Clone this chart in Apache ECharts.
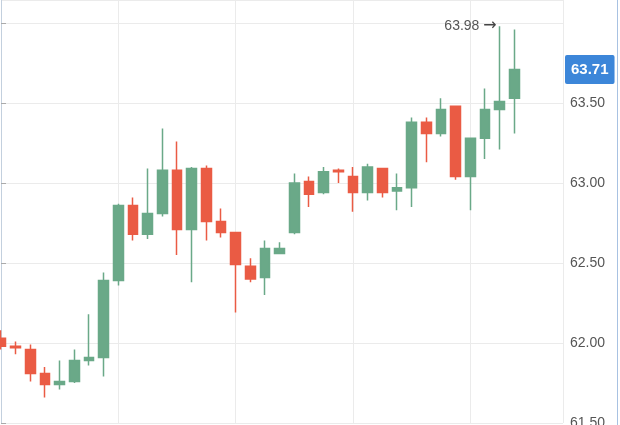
<!DOCTYPE html>
<html>
<head>
<meta charset="utf-8">
<script src="https://cdn.jsdelivr.net/npm/echarts@6/dist/echarts.min.js"></script>
<style>html,body{margin:0;padding:0;background:#fff}#c{width:620px;height:425px}</style>
</head>
<body>
<div id="c"></div>
<script>
var opens  = [62.03,61.98,61.96,61.81,61.74,61.76,61.89,61.91,62.39,62.86,62.68,62.81,63.08,62.71,63.09,62.76,62.69,62.48,62.41,62.56,62.69,63.01,62.94,63.08,63.04,62.94,63.09,62.95,62.97,63.38,63.31,63.48,63.04,63.28,63.46,63.53];
var closes = [61.98,61.97,61.81,61.74,61.76,61.89,61.91,62.39,62.86,62.68,62.81,63.08,62.71,63.09,62.76,62.69,62.49,62.40,62.59,62.59,63.00,62.93,63.07,63.07,62.94,63.10,62.94,62.97,63.38,63.31,63.46,63.04,63.28,63.46,63.51,63.71];
var lows   = [61.96,61.93,61.76,61.66,61.71,61.75,61.86,61.79,62.36,62.64,62.65,62.79,62.55,62.38,62.64,62.66,62.19,62.38,62.30,62.56,62.68,62.85,62.93,63.00,62.82,62.89,62.91,62.83,62.85,63.13,63.29,63.02,62.83,63.15,63.21,63.31];
var highs  = [62.08,62.01,61.99,61.85,61.89,61.96,62.18,62.44,62.87,62.91,63.09,63.34,63.26,63.10,63.11,62.84,62.69,62.53,62.64,62.63,63.06,63.04,63.10,63.09,63.10,63.12,63.09,63.06,63.41,63.41,63.53,63.48,63.28,63.59,63.98,63.96];
var yTicks = [61.50, 62.00, 62.50, 63.00, 63.50];

var upColor = '#6aa988', downColor = '#ea5b44';
var data = opens.map(function (o, i) { return [i, o, closes[i], lows[i], highs[i]]; });
var maxHigh = Math.max.apply(null, highs);
var maxIdx = highs.indexOf(maxHigh);
var lastClose = closes[closes.length - 1];

var chart = echarts.init(document.getElementById('c'), null, {renderer: 'canvas'});
chart.setOption({
  animation: false,
  backgroundColor: '#fff',
  grid: {left: 1, right: 57, top: 0, bottom: 2, outerBoundsMode: 'none', containLabel: false},
  xAxis: {
    type: 'value', min: 0, max: 562 / 14.667, interval: 8,
    axisLine: {show: false}, axisTick: {show: false}, axisLabel: {show: false},
    splitLine: {show: true, lineStyle: {color: '#ebebeb', width: 1}}
  },
  yAxis: {
    type: 'value', position: 'right', min: 61.5, max: 61.5 + 423 / 160, interval: 0.5,
    axisLine: {show: true, lineStyle: {color: '#c3d0de'}},
    axisTick: {show: true, length: 5, lineStyle: {color: '#aaaaaa'}},
    axisLabel: {
      color: '#555', fontSize: 14, fontFamily: 'Liberation Sans, Arial, sans-serif', margin: 7,
      showMinLabel: true, showMaxLabel: false,
      formatter: function (v) {
        for (var i = 0; i < yTicks.length; i++) {
          if (Math.abs(v - yTicks[i]) < 1e-6) return yTicks[i].toFixed(2);
        }
        return '';
      }
    },
    splitLine: {show: true, lineStyle: {color: '#ebebeb', width: 1}}
  },
  series: [{
    type: 'candlestick',
    data: data,
    encode: {x: 0, y: [1, 2, 3, 4]},
    barWidth: 10,
    itemStyle: {color: upColor, color0: downColor, borderColor: upColor, borderColor0: downColor, borderWidth: 1.5},
    markPoint: {
      symbol: 'circle', symbolSize: 0,
      data: [{coord: [maxIdx, maxHigh], value: maxHigh}],
      label: {
        show: true, position: 'left', distance: 3, color: '#555', fontSize: 14,
        fontFamily: 'Liberation Sans, Arial, sans-serif',
        formatter: function (p) { return p.value.toFixed(2) + ' {a|\u2192}'; },
        rich: {a: {fontSize: 16, color: '#444', fontFamily: 'DejaVu Sans, sans-serif'}}
      }
    },
    markLine: {
      symbol: 'none', silent: true,
      lineStyle: {color: 'rgba(0,0,0,0)', width: 0, type: 'solid'},
      data: [{yAxis: lastClose}],
      label: {
        show: true, position: 'end', distance: 2,
        formatter: lastClose.toFixed(2),
        color: '#fff', fontWeight: 'bold', fontSize: 15,
        fontFamily: 'Liberation Sans, Arial, sans-serif',
        backgroundColor: '#3c86d9', borderRadius: 2, padding: [7, 6, 7, 6]
      }
    }
  }],
  graphic: [{
    type: 'line', shape: {x1: 617.5, y1: 0, x2: 617.5, y2: 425},
    style: {stroke: '#a8c2e2', lineWidth: 1}
  }]
});
</script>
</body>
</html>
